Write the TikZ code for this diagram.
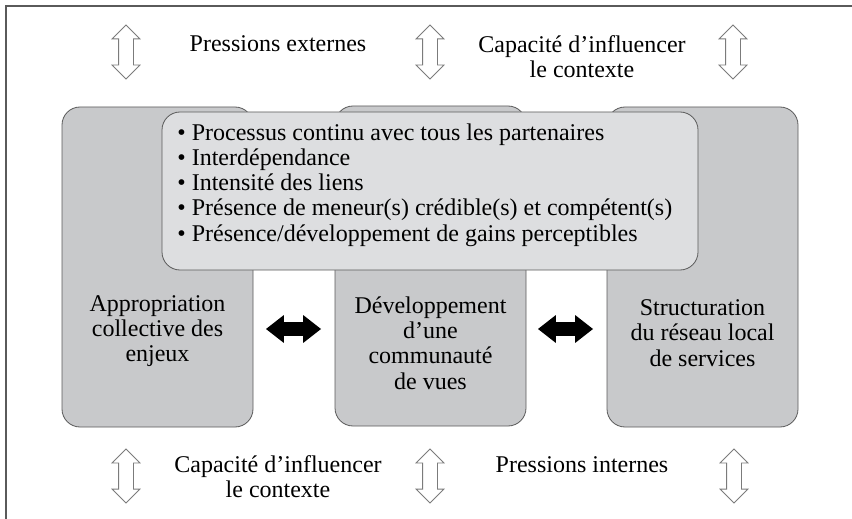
\documentclass[tikz,border=0pt]{standalone}
\usepackage{fontspec}
\setmainfont{Liberation Serif}
\usetikzlibrary{shapes.arrows, positioning}
\definecolor{boxgray}{HTML}{C8C9CB}
\definecolor{innergray}{HTML}{DDDEE0}
\definecolor{linegray}{HTML}{5A5A5A}

\begin{document}
\begin{tikzpicture}[x=0.5pt, y=-0.5pt,
    every node/.style={font=\fontsize{12}{12.6}\selectfont},
    pillar/.style={draw=linegray, fill=boxgray, rounded corners=9pt, minimum width=95.5pt, minimum height=160pt, inner sep=0pt},
    hollow/.style={draw=linegray!80, fill=white, double arrow, rotate=90, minimum height=27pt, inner sep=3.5pt, double arrow head extend=3.25pt, line width=0.4pt},
    solid/.style={fill=black, double arrow, minimum height=27.5pt, inner sep=3.25pt, double arrow head extend=3.5pt, double arrow tip angle=76}]
    \useasboundingbox (0,0) rectangle (852,519);
    \draw[linegray, line width=0.8pt] (852,6) -- (6,6) -- (6,519);

    % the three pillars
    \node[pillar] (approp) at (157.5,267) {};
    \node[pillar] (commun) at (430.5,266) {};
    \node[pillar] (struct) at (702.5,267) {};
    \node[align=center] (appropTxt) at (157.5,331) {Appropriation\\collective des\\enjeux};
    \node[align=center] (communTxt) at (430.5,343) {Développement\\d’une\\communauté\\de vues};
    \node[align=center] (structTxt) at (702.5,333) {Structuration\\du réseau local\\de services};

    % conditions box over the pillars
    \node[draw=linegray, fill=innergray, rounded corners=9pt, minimum width=268pt, minimum height=79pt] (cond) at (430,191) {};
    \node[align=left, anchor=west, inner sep=0pt] (condTxt) at (177,185) {%
        • Processus continu avec tous les partenaires\\
        • Interdépendance\\
        • Intensité des liens\\
        • Présence de meneur(s) crédible(s) et compétent(s)\\
        • Présence/développement de gains perceptibles};

    \node[solid] (linkL) at (293.5,329) {};
    \node[solid] (linkR) at (565.5,329) {};

    % pressions du haut
    \node[hollow] (up1) at (126,52) {};
    \node[hollow] (up2) at (430,52) {};
    \node[hollow] (up3) at (733,52) {};
    \node (extTxt) at (278,44) {Pressions externes};
    \node[align=center] (ctxTop) at (582,57) {Capacité d’influencer\\le contexte};

    % pressions du bas
    \node[hollow] (dn1) at (126,476) {};
    \node[hollow] (dn2) at (430,476) {};
    \node[hollow] (dn3) at (734,476) {};
    \node[align=center] (ctxBot) at (278,477) {Capacité d’influencer\\le contexte};
    \node (intTxt) at (582,465) {Pressions internes};
\end{tikzpicture}
\end{document}
